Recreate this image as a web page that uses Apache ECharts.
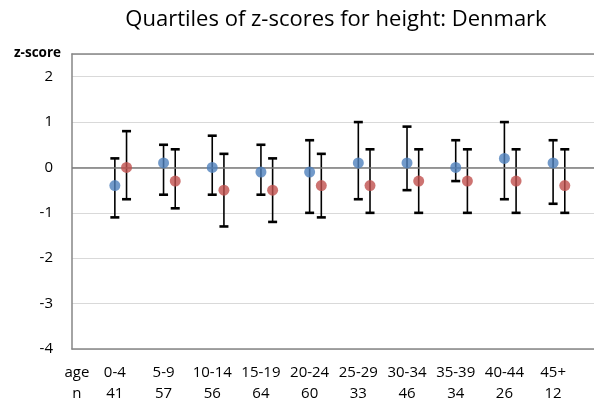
<!DOCTYPE html>
<html><head><meta charset="utf-8">
<script src="https://cdn.jsdelivr.net/npm/echarts@6/dist/echarts.min.js"></script>
<style>html,body{margin:0;padding:0;background:#fff}#c{width:594px;height:403px}</style>
</head><body><div id="c"></div>
<script>
const ageGroups = ['0-4','5-9','10-14','15-19','20-24','25-29','30-34','35-39','40-44','45+'];
const counts = [41,57,56,64,60,33,46,34,26,12];
const seriesAMedian = [-0.4,0.1,0,-0.1,-0.1,0.1,0.1,0,0.2,0.1];
const seriesALow    = [-1.1,-0.6,-0.6,-0.6,-1.0,-0.7,-0.5,-0.3,-0.7,-0.8];
const seriesAHigh   = [0.2,0.5,0.7,0.5,0.6,1.0,0.9,0.6,1.0,0.6];
const seriesBMedian = [0,-0.3,-0.5,-0.5,-0.4,-0.4,-0.3,-0.3,-0.3,-0.4];
const seriesBLow    = [-0.7,-0.9,-1.3,-1.2,-1.1,-1.0,-1.0,-1.0,-1.0,-1.0];
const seriesBHigh   = [0.8,0.4,0.3,0.2,0.3,0.4,0.4,0.4,0.4,0.4];
const yTicks = [-4,-3,-2,-1,0,1,2];

const OFFSET_B = 0.24;
const xA = ageGroups.map((_, i) => i + 1);
const xB = ageGroups.map((_, i) => i + 1 + OFFSET_B);
const FONT = 'Open Sans';

function errData(xs, lo, hi){ return xs.map((x,i)=>[x, lo[i], hi[i]]); }
function renderErr(params, api){
  const x = api.value(0);
  const p1 = api.coord([x, api.value(1)]);
  const p2 = api.coord([x, api.value(2)]);
  const cw = 4.5;
  const st = {stroke:'#000', lineWidth:1.6};
  const cs = {stroke:'#000', lineWidth:2.6};
  return {type:'group', children:[
    {type:'line', shape:{x1:p1[0],y1:p1[1],x2:p2[0],y2:p2[1]}, style:st},
    {type:'line', shape:{x1:p1[0]-cw,y1:p1[1],x2:p1[0]+cw,y2:p1[1]}, style:cs},
    {type:'line', shape:{x1:p2[0]-cw,y1:p2[1],x2:p2[0]+cw,y2:p2[1]}, style:cs}
  ]};
}

const chart = echarts.init(document.getElementById('c'), null, {renderer:'canvas'});
const xMin = 0.12, xMax = 10.84;
chart.setOption({
  animation:false,
  title:{text:'Quartiles of z-scores for height: Denmark', left:331, textAlign:'center', top:4,
    textStyle:{fontFamily:FONT, fontSize:22, fontWeight:'normal', color:'#000'}},
  graphic:[{type:'text', left:14, top:46, style:{text:'z-score', fontFamily:FONT, fontSize:13.5, fontWeight:'bold', fill:'#000'}}],
  grid:{left:72, top:54, right:0, bottom:54, outerBoundsMode:'none', containLabel:false},
  xAxis:[{
    type:'value', min:xMin, max:xMax, position:'bottom',
    splitLine:{show:false}, axisTick:{show:false},
    axisLine:{onZero:false, lineStyle:{color:'#868686', width:1.5}},
    axisLabel:{customValues:[0.22].concat(xA), margin:13, lineHeight:21, fontFamily:FONT, fontSize:15, color:'#000',
      formatter:function(v){ if(v<0.5) return 'age\nn'; const i=Math.round(v)-1; return ageGroups[i]+'\n'+counts[i]; }}
  },{
    type:'value', min:xMin, max:xMax, position:'top',
    splitLine:{show:false}, axisTick:{show:false}, axisLabel:{show:false},
    axisLine:{onZero:false, lineStyle:{color:'#868686', width:1.5}}
  }],
  yAxis:{
    type:'value', min:yTicks[0], max:2.5, interval:1,
    axisLine:{show:true, lineStyle:{color:'#868686', width:1.5}},
    axisTick:{show:false},
    splitLine:{lineStyle:{color:'#d9d9d9', width:1}},
    axisLabel:{showMaxLabel:false, margin:19, fontFamily:FONT, fontSize:15, color:'#000'}
  },
  series:[
    {type:'custom', renderItem:renderErr, data:errData(xA, seriesALow, seriesAHigh), z:2,
      encode:{x:0, y:[1,2]},
      markLine:{silent:true, symbol:'none', label:{show:false}, lineStyle:{color:'#7a7a7a', width:1.6, type:'solid'}, data:[{yAxis:0}]}},
    {type:'custom', renderItem:renderErr, data:errData(xB, seriesBLow, seriesBHigh), z:2, encode:{x:0, y:[1,2]}},
    {type:'scatter', symbolSize:11, z:5, itemStyle:{color:'#4F81BD'}, data:xA.map((x,i)=>[x, seriesAMedian[i]])},
    {type:'scatter', symbolSize:11, z:5, itemStyle:{color:'#C0504D'}, data:xB.map((x,i)=>[x, seriesBMedian[i]])}
  ]
});
</script></body></html>
